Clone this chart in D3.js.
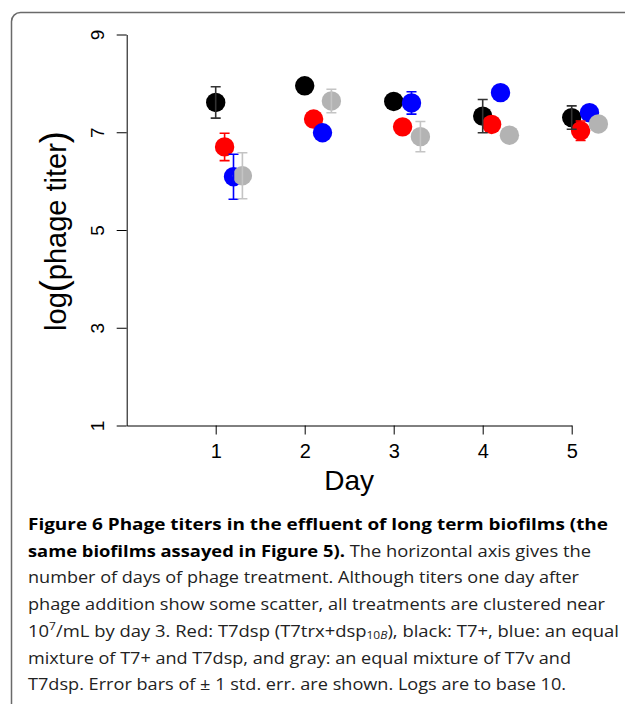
<!DOCTYPE html>
<html><head><meta charset="utf-8">
<script src="https://cdn.jsdelivr.net/npm/d3@7"></script>
<style>
html,body{margin:0;padding:0;background:#fff;}
svg{display:block;}
</style></head>
<body>
<svg id="chart" width="625" height="704"></svg>
<script>
// ---- data ----
const days = [1, 2, 3, 4, 5];
const xTicks = [1, 2, 3, 4, 5];
const yTicks = [1, 3, 5, 7, 9];
const seriesNames = ["T7+", "T7dsp", "T7+ & T7dsp", "T7v & T7dsp"];
const seriesColors = ["#000000", "#ff0000", "#0000ff", "#b3b3b3"];
const errColors = ["#333333", "#ff0000", "#0000ff", "#c4c4c4"];
const seriesOffsets = [0, 0.1, 0.2, 0.3];
const blackVals = [7.61, 7.95, 7.63, 7.33, 7.30];
const blackSE   = [0.32, 0, 0, 0.34, 0.24];
const redVals   = [6.70, 7.27, 7.11, 7.16, 7.03];
const redSE     = [0.28, 0, 0, 0, 0.20];
const blueVals  = [6.09, 6.99, 7.60, 7.81, 7.40];
const blueSE    = [0.46, 0, 0.23, 0, 0];
const grayVals  = [6.11, 7.64, 6.91, 6.94, 7.17];
const graySE    = [0.47, 0.24, 0.31, 0, 0];
const allVals = [blackVals, redVals, blueVals, grayVals];
const allSE = [blackSE, redSE, blueSE, graySE];

const svg = d3.select("#chart");

// frame
svg.append("rect").attr("x", 11.5).attr("y", 12.5).attr("width", 640).attr("height", 720)
  .attr("rx", 9).attr("fill", "none").attr("stroke", "#6a6a6a").attr("stroke-width", 1.5);

const x = d3.scaleLinear().domain([0, 5]).range([126.7, 571.7]);
const y = d3.scaleLinear().domain([1, 9]).range([425.5, 34.5]);

const axFont = "'Liberation Sans', Arial, sans-serif";

// y axis
const yAx = svg.append("g").attr("transform", `translate(${x(0)},0)`)
  .call(d3.axisLeft(y).tickValues(yTicks).tickSize(10).tickSizeOuter(0).tickFormat(d3.format("d")));
yAx.select(".domain").attr("stroke", "#000");
yAx.selectAll(".tick line").attr("stroke", "#000");
yAx.selectAll(".tick text").attr("x", null).attr("dy", null)
  .attr("transform", "translate(-23,0) rotate(-90)")
  .attr("text-anchor", "middle").attr("font-family", axFont).attr("font-size", 19).attr("fill", "#000");

// x axis
const xAx = svg.append("g").attr("transform", `translate(0,${y(1)})`)
  .call(d3.axisBottom(x).tickValues(xTicks).tickSize(9).tickSizeOuter(0).tickFormat(d3.format("d")));
xAx.select(".domain").attr("stroke", "#000");
xAx.selectAll(".tick line").attr("stroke", "#000");
xAx.selectAll(".tick text").attr("y", 32).attr("dy", null)
  .attr("font-family", axFont).attr("font-size", 20).attr("fill", "#000");

// axis titles
svg.append("text").attr("x", x(2.5)).attr("y", 490).attr("text-anchor", "middle")
  .attr("font-family", axFont).attr("font-size", 28).text("Day");

const yl = svg.append("text").attr("transform", `translate(66,${231}) rotate(-90)`)
  .attr("text-anchor", "middle").attr("font-family", axFont).attr("font-size", 29);
yl.append("tspan").text("log");
yl.append("tspan").attr("font-size", 36).text("(");
yl.append("tspan").text("phage titer");
yl.append("tspan").attr("font-size", 36).text(")");

// points
const r = 9.7;
const pts = svg.append("g");
allVals.forEach((vals, s) => {
  pts.selectAll(null).data(days.map((d, i) => ({d, v: vals[i]}))).enter()
    .append("circle")
    .attr("cx", p => x(p.d + seriesOffsets[s]))
    .attr("cy", p => y(p.v))
    .attr("r", r)
    .attr("fill", seriesColors[s]);
});
// error bars
const eb = svg.append("g").attr("fill", "none").attr("stroke-width", 1.6);
allVals.forEach((vals, s) => {
  days.forEach((d, i) => {
    if (!allSE[s][i]) return;
    const cx = x(d + seriesOffsets[s]);
    const y0 = y(vals[i] - allSE[s][i]), y1 = y(vals[i] + allSE[s][i]);
    eb.append("path")
      .attr("d", `M${cx},${y0}V${y1}M${cx-5},${y0}H${cx+5}M${cx-5},${y1}H${cx+5}`)
      .attr("stroke", errColors[s]);
  });
});

// caption
const capFont = "'Open Sans', 'Noto Sans', sans-serif";
const capX = 28, capY0 = 530, capLH = 26.7, capSize = 16.5;
const capLines = [
  [{t: "Figure 6 Phage titers in the effluent of long term biofilms (the", b: true}],
  [{t: "same biofilms assayed in Figure 5).", b: true}, {t: " The horizontal axis gives the"}],
  [{t: "number of days of phage treatment. Although titers one day after"}],
  [{t: "phage addition show some scatter, all treatments are clustered near"}],
  [{t: "10"}, {t: "7", sup: true}, {t: "/mL by day 3. Red: T7dsp (T7trx+dsp"}, {t: "10", sub: true}, {t: "B", sub: true, it: true}, {t: "), black: T7+, blue: an equal"}],
  [{t: "mixture of T7+ and T7dsp, and gray: an equal mixture of T7v and"}],
  [{t: "T7dsp. Error bars of \u00b1 1 std. err. are shown. Logs are to base 10."}]
];
const capEnds = [608, 591, 579, 605, 619, 571, 566];
const cap = svg.append("g").attr("font-family", capFont).attr("font-size", capSize).attr("fill", "#222");
capLines.forEach((parts, li) => {
  const t = cap.append("text").attr("x", capX).attr("y", capY0 + li * capLH);
  parts.forEach(p => {
    const ts = t.append("tspan").text(p.t);
    if (p.b) ts.attr("font-weight", "bold").attr("fill", "#000");
    if (p.sup) ts.attr("font-size", capSize * 0.65).attr("baseline-shift", "super");
    if (p.sub) ts.attr("font-size", capSize * 0.65).attr("baseline-shift", "-15%");
    if (p.it) ts.attr("font-style", "italic");
  });
  t.attr("textLength", capEnds[li] - capX).attr("lengthAdjust", "spacingAndGlyphs");
});
</script>
</body></html>
